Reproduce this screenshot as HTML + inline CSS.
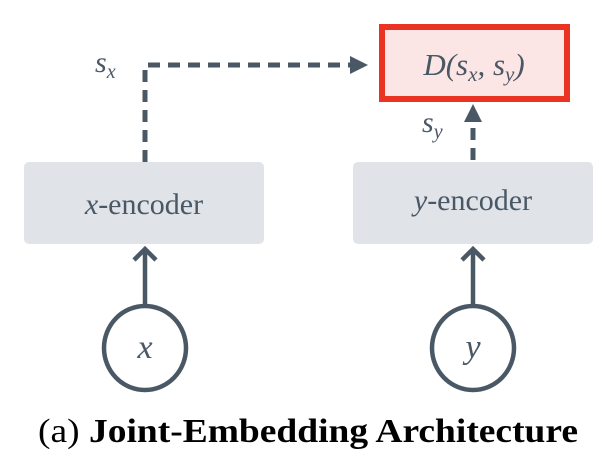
<!DOCTYPE html>
<html><head><style>
body{margin:0;background:#fff;}
</style></head><body>
<svg width="614" height="464" xmlns="http://www.w3.org/2000/svg">
<rect x="382" y="27" width="185" height="72" fill="#fbe6e5" stroke="#ea3323" stroke-width="6"/>
<text x="474" y="75" text-anchor="middle" font-family="Liberation Serif,serif" font-style="italic" font-size="31" fill="#4a5866">D(s<tspan font-size="21" dy="6">x</tspan><tspan dy="-6">, s</tspan><tspan font-size="21" dy="6">y</tspan><tspan dy="-6">)</tspan></text>
<path d="M145,162 L145,65 L358,65" fill="none" stroke="#4a5866" stroke-width="5" stroke-dasharray="12,8"/>
<path d="M350,56 L368,65 L350,74 Z" fill="#4a5866"/>
<path d="M473,160 L473,118" stroke="#4a5866" stroke-width="5" stroke-dasharray="12,8"/>
<path d="M464,122 L473,104 L482,122 Z" fill="#4a5866"/>
<text x="95" y="72" font-family="Liberation Serif,serif" font-style="italic" font-size="30" fill="#4a5866">s<tspan font-size="20" dy="6">x</tspan></text>
<text x="422" y="132" font-family="Liberation Serif,serif" font-style="italic" font-size="30" fill="#4a5866">s<tspan font-size="20" dy="6">y</tspan></text>
<rect x="24" y="162" width="240" height="82" rx="5" fill="#e0e3e7"/>
<rect x="353" y="162" width="240" height="82" rx="5" fill="#e0e3e7"/>
<text x="144" y="214" text-anchor="middle" font-family="Liberation Serif,serif" font-size="30" fill="#4a5866"><tspan font-style="italic">x</tspan>-encoder</text>
<text x="473" y="210" text-anchor="middle" font-family="Liberation Serif,serif" font-size="30" fill="#4a5866"><tspan font-style="italic">y</tspan>-encoder</text>
<path d="M145,306 L145,250 M134,260 L145,249 L156,260" fill="none" stroke="#4a5866" stroke-width="4.5"/>
<path d="M473,306 L473,250 M462,260 L473,249 L484,260" fill="none" stroke="#4a5866" stroke-width="4.5"/>
<ellipse cx="145" cy="348" rx="41" ry="42" fill="#fff" stroke="#4a5866" stroke-width="4.5"/>
<ellipse cx="473" cy="348" rx="41" ry="42" fill="#fff" stroke="#4a5866" stroke-width="4.5"/>
<text x="145" y="358" text-anchor="middle" font-family="Liberation Serif,serif" font-style="italic" font-size="34" fill="#4a5866">x</text>
<text x="473" y="358" text-anchor="middle" font-family="Liberation Serif,serif" font-style="italic" font-size="34" fill="#4a5866">y</text>
<text x="38" y="442" textLength="540" lengthAdjust="spacingAndGlyphs" font-family="Liberation Serif,serif" font-size="34" fill="#000">(a) <tspan font-weight="bold">Joint-Embedding Architecture</tspan></text>
</svg>
</body></html>
